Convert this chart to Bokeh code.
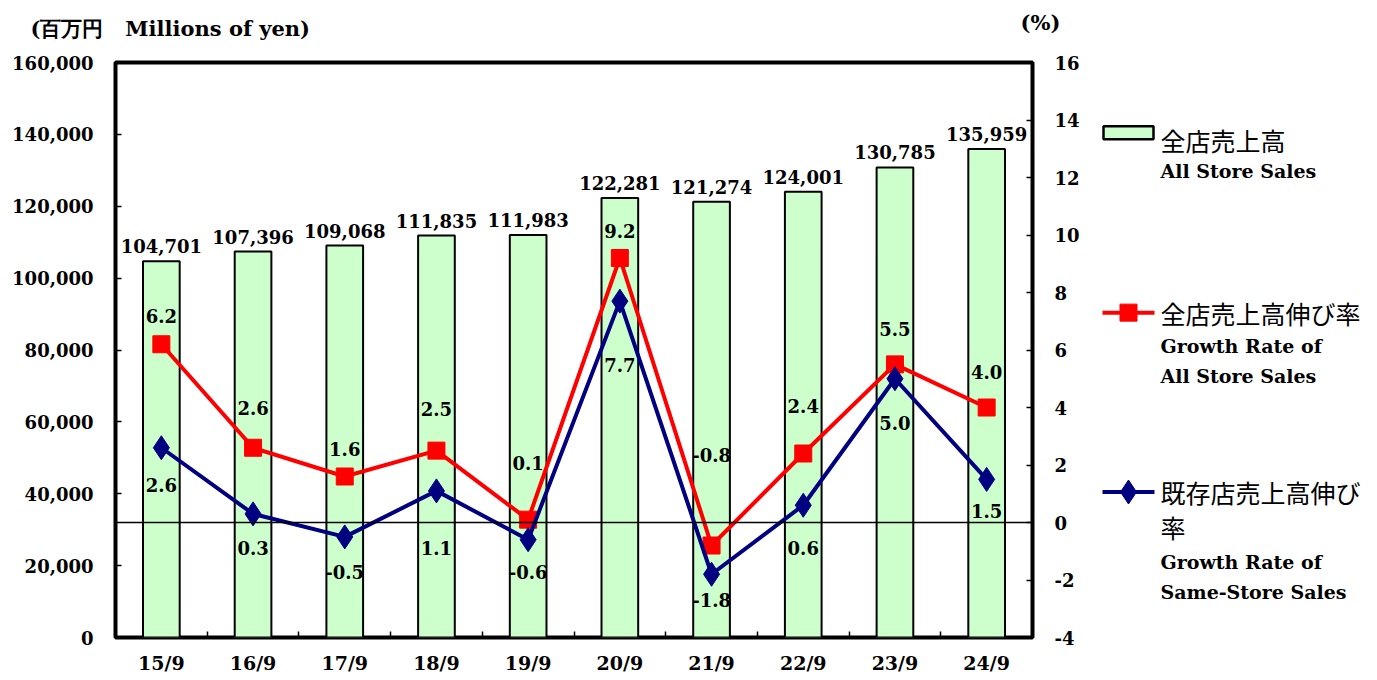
from bokeh.plotting import figure
from bokeh.models import Range1d, LinearAxis, FixedTicker, Span, NumeralTickFormatter
from bokeh.layouts import row, column
from bokeh.embed import file_html
from bokeh.resources import INLINE
from bokeh.core.properties import value

periods = ["15/9", "16/9", "17/9", "18/9", "19/9", "20/9", "21/9", "22/9", "23/9", "24/9"]
sales = [104701, 107396, 109068, 111835, 111983, 122281, 121274, 124001, 130785, 135959]
growth_all = [6.2, 2.6, 1.6, 2.5, 0.1, 9.2, -0.8, 2.4, 5.5, 4.0]
growth_same = [2.6, 0.3, -0.5, 1.1, -0.6, 7.7, -1.8, 0.6, 5.0, 1.5]
left_ticks = list(range(0, 160001, 20000))
right_ticks = list(range(-4, 17, 2))

SERIF = "DejaVu Serif"
CJK = "Noto Sans CJK JP"
idx = list(range(len(periods)))


def blank(fig):
    fig.axis.visible = False
    fig.xgrid.visible = False
    fig.ygrid.visible = False
    fig.outline_line_color = None


# top strip with the unit captions
TOP_H = 44
top = figure(width=1375, height=TOP_H, output_backend="svg", toolbar_location=None,
             x_range=Range1d(0, 1375), y_range=Range1d(TOP_H, 0),
             min_border_left=0, min_border_right=0, min_border_top=0, min_border_bottom=0)
blank(top)
cap = dict(text_font=value(SERIF), text_font_style="bold", text_font_size="21px",
           text_color="black", text_baseline="middle")
top.text(x=[30], y=[28], text=["(百万円\u00a0\u00a0\u00a0Millions of yen)"], text_align="left", **cap)
top.text(x=[1040], y=[22], text=["(%)"], text_align="center", **cap)

MAIN_H = 632
FRAME_TOP, FRAME_BOTTOM = 62, 639  # page rows of the plotting frame
p = figure(width=1090, height=MAIN_H, output_backend="svg", toolbar_location=None,
           x_range=Range1d(-0.5, 9.5), y_range=Range1d(0, 160000),
           min_border_left=115, min_border_right=58, min_border_top=18, min_border_bottom=37)
p.extra_y_ranges = {"pct": Range1d(-4, 16)}
p.xgrid.visible = False
p.ygrid.visible = False
p.outline_line_color = "black"
p.outline_line_width = 4

ra = LinearAxis(y_range_name="pct")
p.add_layout(ra, "right")

p.xaxis.ticker = FixedTicker(ticks=idx, minor_ticks=[i - 0.5 for i in range(len(periods) + 1)])
p.xaxis.major_label_overrides = {i: s for i, s in enumerate(periods)}
p.xaxis.major_tick_in = 0
p.xaxis.major_tick_out = 0
p.xaxis.minor_tick_in = 6
p.xaxis.minor_tick_out = 0
p.xaxis.minor_tick_line_width = 1.5
p.xaxis.major_label_standoff = 14

p.yaxis[0].ticker = FixedTicker(ticks=left_ticks)
p.yaxis[0].formatter = NumeralTickFormatter(format="0,0")
ra.ticker = FixedTicker(ticks=right_ticks)
ra.major_label_overrides = {t: str(t) for t in right_ticks}

for ax in [p.xaxis[0], p.yaxis[0], ra]:
    ax.axis_line_color = None
    ax.major_label_text_font = SERIF
    ax.major_label_text_font_style = "bold"
    ax.major_label_text_font_size = "18px"
    ax.major_label_text_color = "black"
p.xaxis.major_label_text_font_size = "19px"
for ax in [p.yaxis[0], ra]:
    ax.major_tick_in = 6
    ax.major_tick_out = 0
    ax.major_tick_line_width = 1.5
    ax.minor_tick_line_color = None
    ax.major_label_standoff = 22

p.vbar(x=idx, top=sales, bottom=0, width=0.4, fill_color="#CCFFCC",
       line_color="black", line_width=2)

p.add_layout(Span(location=0, dimension="width", y_range_name="pct",
                  line_color="black", line_width=1.5))

p.line(idx, growth_all, y_range_name="pct", line_color="#FF0000", line_width=4)
p.scatter(idx, growth_all, y_range_name="pct", marker="square", size=17,
          fill_color="#FF0000", line_color="#FF0000")
p.line(idx, growth_same, y_range_name="pct", line_color="#000080", line_width=4)
p.scatter(idx, growth_same, y_range_name="pct", marker="diamond", size=24,
          fill_color="#000080", line_color="#000080")

lab = dict(text_font=value(SERIF), text_font_style="bold", text_font_size="18px",
           text_color="black", text_align="center")
p.text(x=idx, y=sales, text=[f"{v:,}" for v in sales], text_baseline="bottom",
       y_offset=-8, **lab)

red_dy = [-28, -40, -28, -42, -57, -27, -91, -48, -35, -36]
blue_dy = [37, 34, 35, 57, 32, 64, 26, 43, 44, 32]
for i in idx:
    p.text(x=[i], y=[growth_all[i]], text=[f"{growth_all[i]:.1f}"], y_range_name="pct",
           text_baseline="middle", y_offset=red_dy[i], **lab)
    p.text(x=[i], y=[growth_same[i]], text=[f"{growth_same[i]:.1f}"], y_range_name="pct",
           text_baseline="middle", y_offset=blue_dy[i], **lab)

# legend panel (its frame is aligned with the main frame, so y = page row)
lf = figure(width=285, height=MAIN_H, output_backend="svg", toolbar_location=None,
            x_range=Range1d(0, 285), y_range=Range1d(FRAME_BOTTOM, FRAME_TOP),
            min_border_left=0, min_border_right=0, min_border_top=18, min_border_bottom=37)
blank(lf)

lf.rect(x=[38], y=[132.5], width=50, height=13, fill_color="#CCFFCC",
        line_color="black", line_width=2.5)
lf.line(x=[12, 64], y=[313, 313], line_color="#FF0000", line_width=4)
lf.scatter(x=[38], y=[313], marker="square", size=17, fill_color="#FF0000", line_color="#FF0000")
lf.line(x=[12, 64], y=[493, 493], line_color="#000080", line_width=4)
lf.scatter(x=[38], y=[493], marker="diamond", size=24, fill_color="#000080", line_color="#000080")

jp = dict(text_font=value(CJK), text_font_size="25px", text_color="black",
          text_baseline="middle", text_align="left")
en = dict(text_font=value(SERIF), text_font_style="bold", text_font_size="19px",
          text_color="black", text_baseline="middle", text_align="left")
lf.text(x=[70, 70, 70, 70], y=[140, 313, 493, 528],
        text=["全店売上高", "全店売上高伸び率", "既存店売上高伸び", "率"], **jp)
lf.text(x=[70, 70, 70, 70, 70], y=[171, 346, 377, 563, 593],
        text=["All Store Sales", "Growth Rate of", "All Store Sales",
              "Growth Rate of", "Same-Store Sales"], **en)

layout = column(top, row(p, lf))
open("out.html", "w").write(file_html(layout, INLINE))
